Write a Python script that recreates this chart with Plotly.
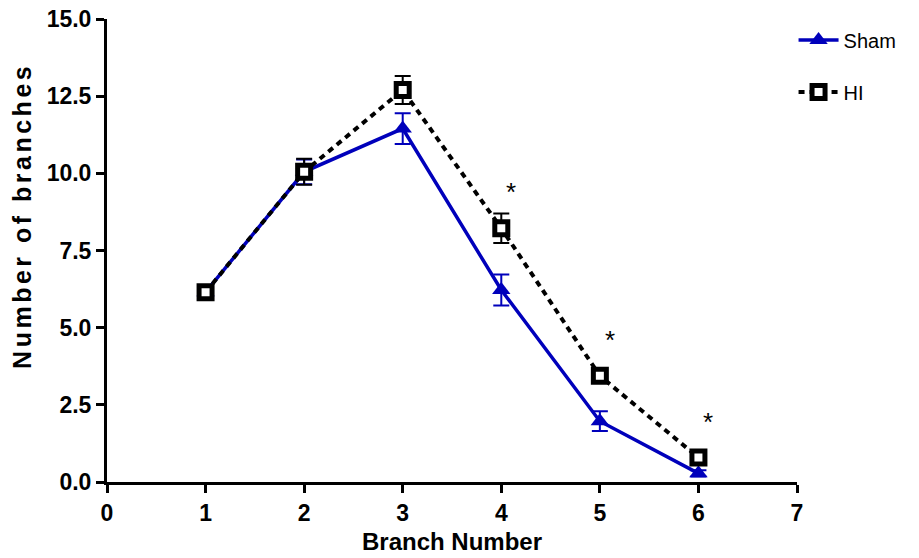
import plotly.graph_objects as go

branch = [1, 2, 3, 4, 5, 6]
sham_mean = [6.15, 10.05, 11.45, 6.22, 1.97, 0.28]
sham_sem = [0.1, 0.4, 0.5, 0.5, 0.32, 0.1]
hi_mean = [6.15, 10.05, 12.70, 8.22, 3.44, 0.79]
hi_sem = [0.1, 0.42, 0.45, 0.48, 0.15, 0.1]
sig_branch = [4, 5, 6]
sig_y = [8.22, 3.44, 0.79]

BLUE = "#0000BB"
FONT = "Liberation Sans"

fig = go.Figure()
fig.add_trace(go.Scatter(
    x=branch, y=sham_mean, name="Sham", mode="lines+markers",
    line=dict(color=BLUE, width=3.5),
    marker=dict(symbol="triangle-up", size=16, color=BLUE),
    error_y=dict(type="data", array=sham_sem, color=BLUE, thickness=2, width=8),
    legendgroup="a",
))
fig.add_trace(go.Scatter(
    x=branch, y=hi_mean, name="HI", mode="lines+markers",
    line=dict(color="black", width=4, dash="6px,5px"),
    marker=dict(symbol="square", size=13, color="white",
                line=dict(color="black", width=5)),
    error_y=dict(type="data", array=hi_sem, color="black", thickness=2, width=8),
    legendgroup="b",
))

for xb, yb in zip(sig_branch, sig_y):
    fig.add_annotation(x=xb, y=yb, text="*", showarrow=False,
                       xshift=10, yshift=36,
                       font=dict(family=FONT, size=26, color="black"))

# y-axis title, spaced out and set a little above centre
fig.add_annotation(
    xref="paper", yref="paper", x=-0.123, y=0.575,
    xanchor="center", yanchor="middle", textangle=-90, showarrow=False,
    text='<span style="letter-spacing:3.5px">Number of branches</span>',
    font=dict(family=FONT, size=25, color="black", weight="bold"),
)

axis_common = dict(
    showline=True, linecolor="black", linewidth=3,
    ticks="outside", ticklen=8, tickwidth=3, tickcolor="black",
    showgrid=False, zeroline=False, automargin=False,
    tickfont=dict(family=FONT, size=23, color="black", weight="bold"),
)

fig.update_layout(
    width=919, height=558,
    margin=dict(l=107, r=122, t=19, b=76),
    plot_bgcolor="white", paper_bgcolor="white",
    xaxis=dict(range=[0, 7], tickvals=list(range(0, 8)),
               title=dict(text="Branch Number", standoff=9,
                          font=dict(family=FONT, size=24, color="black", weight="bold")),
               **axis_common),
    yaxis=dict(range=[0, 15], tickvals=[0, 2.5, 5, 7.5, 10, 12.5, 15],
               tickformat=".1f", **axis_common),
    legend=dict(x=0.995, y=0.997, xanchor="left", yanchor="top",
                font=dict(family=FONT, size=20, color="black"),
                traceorder="grouped", tracegroupgap=23,
                bgcolor="rgba(0,0,0,0)", itemwidth=40),
    showlegend=True,
)

fig.write_html("out.html")
